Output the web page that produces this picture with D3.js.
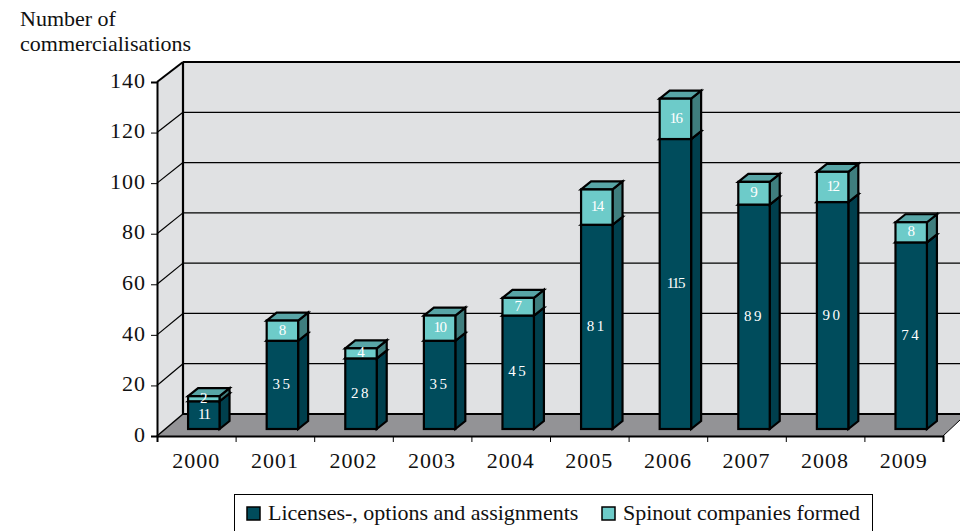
<!DOCTYPE html>
<html lang="en">
<head>
<meta charset="UTF-8">
<title>Number of commercialisations</title>
<style>
    html, body { margin: 0; padding: 0; background: #fff; overflow: hidden; }
    svg { display: block; }
    text { font-family: "Liberation Serif", serif; }
</style>
</head>
<body>
<svg class="chart" width="960" height="531"></svg>
<script src="https://d3js.org/d3.v7.min.js"></script>
<script>
const years = ["2000","2001","2002","2003","2004","2005","2006","2007","2008","2009"];
const licenses = [11, 35, 28, 35, 45, 81, 115, 89, 90, 74];
const spinouts = [2, 8, 4, 10, 7, 14, 16, 9, 12, 8];
const y_ticks = [0, 20, 40, 60, 80, 100, 120, 140];
const series_names = ["Licenses-, options and assignments", "Spinout companies formed"];
const title_lines = ["Number of", "commercialisations"];

const front_cols = ["#004c5c", "#6dcbc9"];
const side_cols = ["#003f4d", "#3f7e7e"];
const top_cols = ["#003f4d", "#58a5a6"];

const svg = d3.select(".chart");

// front plane of the box, the back wall sits 26px right and 22px up
const left = 157, right = 943, base = 436, front_top = 82;
const dx = 26, dy = 22;
// small depth of the bars and where they stand on the floor
const bar_dx = 10, bar_dy = 8, bar_shift = 7.5, bar_base = 429;

const y_front = d3.scaleLinear().domain([0, 140]).range([base, front_top]);
const y_back = d3.scaleLinear().domain([0, 140]).range([base - dy, 62]);
const y_bar = d3.scaleLinear().domain([0, 140]).range([bar_base, bar_base - (base - front_top) + 1]);
const x_band = d3.scaleBand().domain(years).range([left, right]).paddingInner(0.6).paddingOuter(0.3);
const x_edge = d3.scaleLinear().domain([0, years.length]).range([left, right]);

const poly = pts => pts.map(p => p.join(",")).join(" ");

// walls and floor
svg.append("rect")
    .attr("x", left + dx).attr("y", y_back(140))
    .attr("width", 960 - left - dx).attr("height", base - dy - y_back(140))
    .attr("fill", "#e0e1e3");
svg.append("polygon")
    .attr("points", poly([[left, front_top], [left + dx, y_back(140)], [left + dx, base - dy], [left, base]]))
    .attr("fill", "#e0e1e3");
svg.append("polygon")
    .attr("points", poly([[left, base], [left + dx, base - dy], [960, base - dy], [960, base - 16], [right, base]]))
    .attr("fill", "#939396");

// gridlines on the back and side wall
const grid = svg.append("g").attr("stroke", "#000").attr("stroke-width", 1.2);
y_ticks.filter(d => d > 0).forEach(d => {
    grid.append("line")
        .attr("x1", left + dx).attr("x2", 960)
        .attr("y1", y_back(d)).attr("y2", y_back(d))
        .attr("stroke-width", d == 140 ? 2 : 1.2);
    grid.append("line")
        .attr("x1", left).attr("x2", left + dx)
        .attr("y1", y_front(d)).attr("y2", y_back(d))
        .attr("stroke-width", d == 140 ? 2 : 1.2);
});

svg.append("line")
    .attr("x1", left + dx).attr("x2", left + dx)
    .attr("y1", y_back(140)).attr("y2", base - dy)
    .attr("stroke", "#000").attr("stroke-width", 2.2);
svg.append("line")
    .attr("x1", left + dx).attr("x2", 960)
    .attr("y1", base - dy).attr("y2", base - dy)
    .attr("stroke", "#000").attr("stroke-width", 2);
svg.append("line")
    .attr("x1", left).attr("x2", left + dx)
    .attr("y1", base).attr("y2", base - dy)
    .attr("stroke", "#000").attr("stroke-width", 1.5);
svg.append("line")
    .attr("x1", right).attr("x2", 960)
    .attr("y1", base).attr("y2", base - 16)
    .attr("stroke", "#000").attr("stroke-width", 1);

// axes
const y_axis = svg.append("g")
    .attr("transform", "translate(" + left + ",0)")
    .call(d3.axisLeft(y_front).tickValues(y_ticks).tickSize(6).tickPadding(5));
const x_axis_ticks = svg.append("g")
    .attr("transform", "translate(0," + base + ")")
    .call(d3.axisBottom(x_edge).tickValues(d3.range(years.length + 1)).tickSize(6).tickFormat(""));
const x_axis = svg.append("g")
    .attr("transform", "translate(0," + base + ")")
    .call(d3.axisBottom(x_band).tickSize(0).tickPadding(16));
x_axis.select(".domain").remove();

[y_axis, x_axis_ticks].forEach(a => {
    a.selectAll(".domain").attr("stroke-width", 2);
    a.selectAll(".tick line").attr("stroke-width", 1);
});
[y_axis, x_axis].forEach(a => {
    a.selectAll("text")
        .style("font-family", '"Liberation Serif", serif')
        .style("font-size", "22px")
        .style("letter-spacing", "1px")
        .attr("fill", "#111");
});
y_axis.selectAll("text").attr("dy", "0.24em");

// bars
const rows = years.map((y, i) => ({year: y, licenses: licenses[i], spinouts: spinouts[i]}));
const stacked = d3.stack().keys(["licenses", "spinouts"])(rows);

stacked.forEach((layer, s) => {
    const g = svg.append("g")
        .attr("stroke", "#000").attr("stroke-width", 2.2).attr("stroke-linejoin", "miter");
    layer.forEach(d => {
        const x0 = x_band(d.data.year) + bar_shift;
        const x1 = x0 + x_band.bandwidth();
        const y0 = y_bar(d[0]), y1 = y_bar(d[1]);
        g.append("polygon")
            .attr("points", poly([[x1, y1], [x1 + bar_dx, y1 - bar_dy], [x1 + bar_dx, y0 - bar_dy], [x1, y0]]))
            .attr("fill", side_cols[s]);
        g.append("polygon")
            .attr("points", poly([[x0, y1], [x0 + bar_dx, y1 - bar_dy], [x1 + bar_dx, y1 - bar_dy], [x1, y1]]))
            .attr("fill", top_cols[s]);
        g.append("rect")
            .attr("x", x0).attr("y", y1)
            .attr("width", x1 - x0).attr("height", y0 - y1)
            .attr("fill", front_cols[s]);
    });
});

// value labels, the source sets numbers starting with 1 tight and the others wide
stacked.forEach(layer => {
    layer.forEach(d => {
        const v = String(d[1] - d[0]);
        svg.append("text")
            .attr("x", x_band(d.data.year) + bar_shift + x_band.bandwidth() / 2)
            .attr("y", (y_bar(d[0]) + y_bar(d[1])) / 2 + 4)
            .attr("text-anchor", "middle")
            .attr("fill", "#fff")
            .style("font-size", "15px")
            .style("letter-spacing", v[0] == "1" ? "-1.5px" : (v.length > 1 ? "2.5px" : "0"))
            .text(v);
    });
});

// title
svg.append("g").selectAll("text")
    .data(title_lines)
    .join("text")
    .attr("x", 20)
    .attr("y", (d, i) => 26 + i * 25)
    .attr("fill", "#111")
    .style("font-size", "22px")
    .text(d => d);

// legend, clipped by the bottom of the picture like the source
const legend = svg.append("g");
legend.append("rect")
    .attr("x", 234.5).attr("y", 494.5)
    .attr("width", 638).attr("height", 40)
    .attr("fill", "#fff").attr("stroke", "#000").attr("stroke-width", 1);
const legend_x = [247, 602];
series_names.forEach((name, i) => {
    legend.append("rect")
        .attr("x", legend_x[i]).attr("y", 507)
        .attr("width", 13).attr("height", 13)
        .attr("fill", front_cols[i]).attr("stroke", "#000").attr("stroke-width", 1.5);
    legend.append("text")
        .attr("x", legend_x[i] + 21).attr("y", 520)
        .attr("fill", "#111")
        .style("font-size", "22px")
        .text(name);
});
</script>
</body>
</html>
